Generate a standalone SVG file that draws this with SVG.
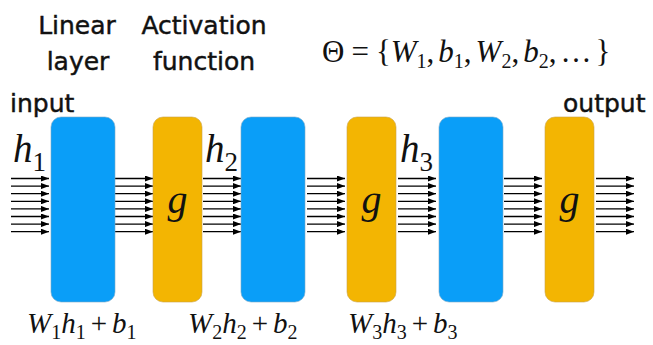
<svg xmlns="http://www.w3.org/2000/svg" width="653" height="345" viewBox="0 0 653 345">
<style>
.lbl{font-family:"DejaVu Sans","Noto Sans",sans-serif;font-size:25px;fill:#111;stroke:#111;stroke-width:0.45}
.m{font-family:"Liberation Serif","Times New Roman",serif;fill:#111}
.i{font-style:italic}
.s{font-size:20px;font-style:normal}
.lin{fill:#0A9EF8;stroke:#7aa9c8;stroke-width:0.6}
.act{fill:#F3B502;stroke:#c9a24a;stroke-width:0.6}
.ar{stroke:#000;stroke-width:1.3;fill:none}
</style>
<defs>
<marker id="ah" viewBox="0 0 8 6" refX="8" refY="3" markerWidth="8" markerHeight="6" markerUnits="userSpaceOnUse" orient="auto">
<path d="M0,0 L8,3 L0,6 z" fill="#000"/>
</marker>
<g id="bundle">
<line class="ar" x1="0" y1="0" x2="38" y2="0" marker-end="url(#ah)"/>
<line class="ar" x1="0" y1="7.6" x2="38" y2="7.6" marker-end="url(#ah)"/>
<line class="ar" x1="0" y1="15.2" x2="38" y2="15.2" marker-end="url(#ah)"/>
<line class="ar" x1="0" y1="22.8" x2="38" y2="22.8" marker-end="url(#ah)"/>
<line class="ar" x1="0" y1="30.4" x2="38" y2="30.4" marker-end="url(#ah)"/>
<line class="ar" x1="0" y1="38" x2="38" y2="38" marker-end="url(#ah)"/>
<line class="ar" x1="0" y1="45.6" x2="38" y2="45.6" marker-end="url(#ah)"/>
<line class="ar" x1="0" y1="53.2" x2="38" y2="53.2" marker-end="url(#ah)"/>
</g>
</defs>

<g id="headers">
<text class="lbl" x="77" y="34" text-anchor="middle">Linear</text>
<text class="lbl" x="78" y="70" text-anchor="middle">layer</text>
<text class="lbl" x="204" y="34" text-anchor="middle">Activation</text>
<text class="lbl" x="204" y="70" text-anchor="middle">function</text>
<text class="lbl" x="10" y="112">input</text>
<text class="lbl" x="563" y="112">output</text>
</g>

<g id="theta">
<text class="m" x="322" y="62" font-size="31">Θ<tspan dx="7">=</tspan><tspan dx="7">{</tspan><tspan class="i">W</tspan><tspan class="s" dy="6">1</tspan><tspan dy="-6">,</tspan><tspan class="i" dx="4">b</tspan><tspan class="s" dy="6">1</tspan><tspan dy="-6">,</tspan><tspan class="i" dx="4">W</tspan><tspan class="s" dy="6">2</tspan><tspan dy="-6">,</tspan><tspan class="i" dx="4">b</tspan><tspan class="s" dy="6">2</tspan><tspan dy="-6">,</tspan><tspan dx="4">…</tspan><tspan dx="4">}</tspan></text>
</g>

<g id="connectors">
<use href="#bundle" x="11" y="178.5"/>
<use href="#bundle" x="115" y="178.5"/>
<use href="#bundle" x="203" y="178.5"/>
<use href="#bundle" x="307" y="178.5"/>
<use href="#bundle" x="398" y="178.5"/>
<use href="#bundle" x="504" y="178.5"/>
<use href="#bundle" x="596" y="178.5"/>
</g>

<g id="linear1"><rect class="lin" x="51" y="117" width="64" height="185" rx="10"/></g>
<g id="act1"><rect class="act" x="153" y="117" width="49" height="185" rx="10"/><text class="m i" x="177.5" y="213" font-size="40" text-anchor="middle">g</text></g>
<g id="linear2"><rect class="lin" x="241" y="117" width="64" height="185" rx="10"/></g>
<g id="act2"><rect class="act" x="347" y="117" width="49" height="185" rx="10"/><text class="m i" x="371.5" y="213" font-size="40" text-anchor="middle">g</text></g>
<g id="linear3"><rect class="lin" x="439" y="117" width="64" height="185" rx="10"/></g>
<g id="act3"><rect class="act" x="545" y="117" width="49" height="185" rx="10"/><text class="m i" x="569.5" y="213" font-size="40" text-anchor="middle">g</text></g>

<g id="hlabels">
<text class="m i" x="13" y="162" font-size="39">h<tspan font-size="27" font-style="normal" dy="9">1</tspan></text>
<text class="m i" x="205" y="162" font-size="39">h<tspan font-size="27" font-style="normal" dy="9">2</tspan></text>
<text class="m i" x="400" y="162" font-size="39">h<tspan font-size="27" font-style="normal" dy="9">3</tspan></text>
</g>

<g id="formulas">
<text class="m" x="27" y="333" font-size="29"><tspan class="i">W</tspan><tspan class="s" dy="6">1</tspan><tspan class="i" dy="-6">h</tspan><tspan class="s" dy="6">1</tspan><tspan dx="5" dy="-6">+</tspan><tspan class="i" dx="5">b</tspan><tspan class="s" dy="6">1</tspan></text>
<text class="m" x="188" y="333" font-size="29"><tspan class="i">W</tspan><tspan class="s" dy="6">2</tspan><tspan class="i" dy="-6">h</tspan><tspan class="s" dy="6">2</tspan><tspan dx="5" dy="-6">+</tspan><tspan class="i" dx="5">b</tspan><tspan class="s" dy="6">2</tspan></text>
<text class="m" x="348" y="333" font-size="29"><tspan class="i">W</tspan><tspan class="s" dy="6">3</tspan><tspan class="i" dy="-6">h</tspan><tspan class="s" dy="6">3</tspan><tspan dx="5" dy="-6">+</tspan><tspan class="i" dx="5">b</tspan><tspan class="s" dy="6">3</tspan></text>
</g>
</svg>
